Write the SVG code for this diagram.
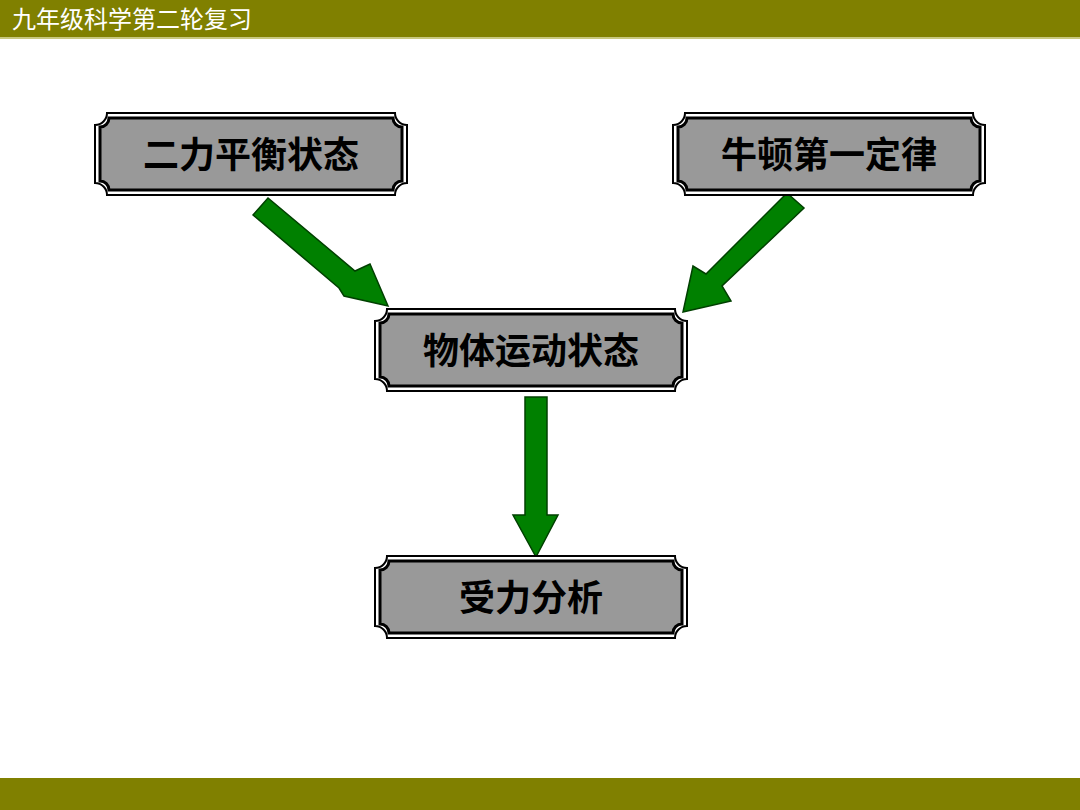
<svg xmlns="http://www.w3.org/2000/svg" xmlns:xlink="http://www.w3.org/1999/xlink" width="1080" height="810" viewBox="0 0 1080 810">
<style>
.t{font-family:"Liberation Sans","Noto Sans CJK SC",sans-serif;font-weight:bold;font-size:36px;fill:#000;text-anchor:middle}
.arr{fill:#008000;stroke:#004000;stroke-width:1.5}
</style>
<defs>
<g id="plaque">
<path d="M12,0H300A12,12 0 0 0 312,12V70A12,12 0 0 0 300,82H12A12,12 0 0 0 0,70V12A12,12 0 0 0 12,0Z" fill="#fff" stroke="#000" stroke-width="2"/>
<path d="M14,5H298A9,9 0 0 0 307,14V68A9,9 0 0 0 298,77H14A9,9 0 0 0 5,68V14A9,9 0 0 0 14,5Z" fill="#999" stroke="#000" stroke-width="3"/>
</g>
</defs>
<rect width="1080" height="810" fill="#fff"/>
<rect x="0" y="0" width="1080" height="37" fill="#808000"/>
<rect x="0" y="37" width="1080" height="2" fill="#c8c880"/>
<text x="12" y="28" font-family="Liberation Serif,'Noto Sans CJK SC',serif" font-size="24" fill="#fff">九年级科学第二轮复习</text>
<rect x="0" y="778" width="1080" height="32" fill="#808000"/>
<g id="connectors">
<polygon class="arr" points="253,215 268,198 355,271 370,264 388,306 344,296 339,288"/>
<polygon class="arr" points="787,193 804,208 722,286 731,301 683,312 693,266 706,274"/>
<polygon class="arr" points="525,397 547,397 547,515 558,515 536,557 513,515 525,515"/>
</g>
<g id="n1"><use xlink:href="#plaque" x="95" y="113"/><text class="t" x="251" y="168">二力平衡状态</text></g>
<g id="n2"><use xlink:href="#plaque" x="673" y="113"/><text class="t" x="829" y="168">牛顿第一定律</text></g>
<g id="n3"><use xlink:href="#plaque" x="375" y="309"/><text class="t" x="531" y="364">物体运动状态</text></g>
<g id="n4"><use xlink:href="#plaque" x="375" y="556"/><text class="t" x="531" y="611">受力分析</text></g>
</svg>
